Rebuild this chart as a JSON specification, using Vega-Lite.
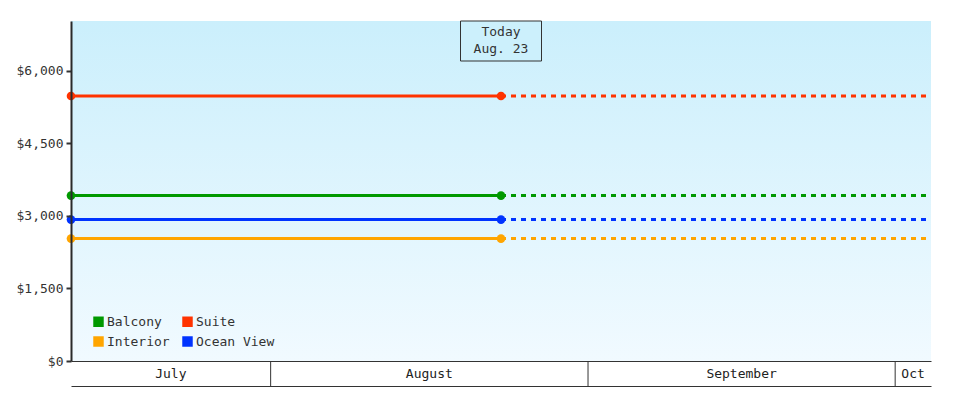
{
  "$schema": "https://vega.github.io/schema/vega-lite/v6.json",
  "background": "white",
  "padding": {"left": 16, "top": 20, "right": 43, "bottom": 15},
  "spacing": 0,
  "bounds": "flush",
  "config": {
    "font": "DejaVu Sans Mono",
    "view": {"stroke": null},
    "axis": {"labelFont": "DejaVu Sans Mono", "labelFontSize": 13, "labelColor": "#333333", "domainColor": "#333333", "tickColor": "#333333", "grid": false, "title": null, "zindex": 1},
    "legend": {"labelFont": "DejaVu Sans Mono", "labelFontSize": 13, "labelColor": "#333333"}
  },
  "datasets": {
    "solid": [
      {"type": "Suite", "date": "2024-07-12T12:00:00", "price": 5483},
      {"type": "Suite", "date": "2024-08-23T12:00:00", "price": 5483},
      {"type": "Balcony", "date": "2024-07-12T12:00:00", "price": 3422},
      {"type": "Balcony", "date": "2024-08-23T12:00:00", "price": 3422},
      {"type": "Ocean View", "date": "2024-07-12T12:00:00", "price": 2925},
      {"type": "Ocean View", "date": "2024-08-23T12:00:00", "price": 2925},
      {"type": "Interior", "date": "2024-07-12T12:00:00", "price": 2532},
      {"type": "Interior", "date": "2024-08-23T12:00:00", "price": 2532}
    ],
    "dotted": [
      {"type": "Suite", "date": "2024-08-23T12:00:00", "price": 5483},
      {"type": "Suite", "date": "2024-10-04T12:00:00", "price": 5483},
      {"type": "Balcony", "date": "2024-08-23T12:00:00", "price": 3422},
      {"type": "Balcony", "date": "2024-10-04T12:00:00", "price": 3422},
      {"type": "Ocean View", "date": "2024-08-23T12:00:00", "price": 2925},
      {"type": "Ocean View", "date": "2024-10-04T12:00:00", "price": 2925},
      {"type": "Interior", "date": "2024-08-23T12:00:00", "price": 2532},
      {"type": "Interior", "date": "2024-10-04T12:00:00", "price": 2532}
    ],
    "today": [
      {"label": "Today", "date": "2024-08-23T12:00:00", "top": 6207, "mid": 6620}
    ],
    "months": [
      {"month": "July", "mid": "2024-07-22T06:00:00"},
      {"month": "August", "mid": "2024-08-16T12:00:00"},
      {"month": "September", "mid": "2024-09-16T00:00:00"},
      {"month": "Oct", "mid": "2024-10-02T18:00:00"}
    ],
    "bounds": [
      {"date": "2024-08-01T00:00:00"},
      {"date": "2024-09-01T00:00:00"},
      {"date": "2024-10-01T00:00:00"}
    ]
  },
  "vconcat": [
    {
      "width": 860,
      "height": 340,
      "encoding": {
        "x": {"field": "date", "type": "temporal", "scale": {"domain": ["2024-07-12T12:00:00", "2024-10-04T12:00:00"]}, "axis": {"labels": false, "ticks": false, "domain": true, "domainWidth": 1, "zindex": 1}},
        "y": {"field": "price", "type": "quantitative", "scale": {"domain": [0, 7034], "nice": false}, "axis": {"values": [0, 1500, 3000, 4500, 6000], "format": "$,d", "domainWidth": 2, "domainColor": "#2a2a2a", "tickWidth": 2, "tickSize": 5, "labelPadding": 3, "zindex": 1}}
      },
      "layer": [
        {
          "data": {"values": [{}]},
          "mark": {"type": "rect", "color": {"gradient": "linear", "x1": 0, "y1": 0, "x2": 0, "y2": 1, "stops": [{"offset": 0, "color": "#cbeffc"}, {"offset": 1, "color": "#f1faff"}]}},
          "encoding": {"x": null, "y": null}
        },
        {
          "data": {"name": "solid"},
          "mark": {"type": "line", "strokeWidth": 3},
          "encoding": {"color": {"field": "type", "type": "nominal", "scale": {"domain": ["Balcony", "Suite", "Interior", "Ocean View"], "range": ["#009900", "#ff3300", "#ffa500", "#0033ff"]}, "legend": {"orient": "none", "direction": "horizontal", "legendX": 21, "legendY": 294, "columns": 2, "symbolType": "square", "symbolSize": 110, "symbolStrokeWidth": 0, "labelOffset": 2, "columnPadding": 11, "rowPadding": 6, "padding": 0, "title": null, "encode": {"symbols": {"update": {"fill": {"scale": "color", "field": "value"}, "fillOpacity": {"value": 1}, "strokeWidth": {"value": 0}}}}}}}
        },
        {
          "data": {"name": "dotted"},
          "mark": {"type": "line", "strokeWidth": 3, "strokeDash": [5, 5]},
          "encoding": {"color": {"field": "type", "type": "nominal"}}
        },
        {
          "data": {"name": "today"},
          "mark": {"type": "rule", "color": "#333333", "strokeWidth": 1},
          "encoding": {"y": {"datum": 0, "type": "quantitative"}, "y2": {"field": "top"}}
        },
        {
          "data": {"name": "solid"},
          "mark": {"type": "point", "filled": true, "shape": "circle", "size": 75, "opacity": 1},
          "encoding": {"color": {"field": "type", "type": "nominal"}}
        },
        {
          "data": {"name": "today"},
          "mark": {"type": "rect", "width": 81, "height": 40, "fill": "#ccf0fc", "stroke": "#333333", "strokeWidth": 1},
          "encoding": {"y": {"field": "mid", "type": "quantitative"}}
        },
        {
          "data": {"name": "today"},
          "mark": {"type": "text", "text": ["Today", "Aug. 23"], "fontSize": 13, "lineHeight": 17, "color": "#333333", "baseline": "middle", "dy": -9},
          "encoding": {"y": {"field": "mid", "type": "quantitative"}}
        }
      ]
    },
    {
      "width": 860,
      "height": 25,
      "layer": [
        {
          "data": {"name": "bounds"},
          "mark": {"type": "rule", "color": "#333333", "strokeWidth": 1},
          "encoding": {"x": {"field": "date", "type": "temporal", "scale": {"domain": ["2024-07-12T12:00:00", "2024-10-04T12:00:00"]}, "axis": {"labels": false, "ticks": false, "domain": true, "domainWidth": 1}}}
        },
        {
          "data": {"name": "months"},
          "mark": {"type": "text", "fontSize": 13, "color": "#222222", "baseline": "middle"},
          "encoding": {"x": {"field": "mid", "type": "temporal"}, "text": {"field": "month"}}
        }
      ]
    }
  ]
}
